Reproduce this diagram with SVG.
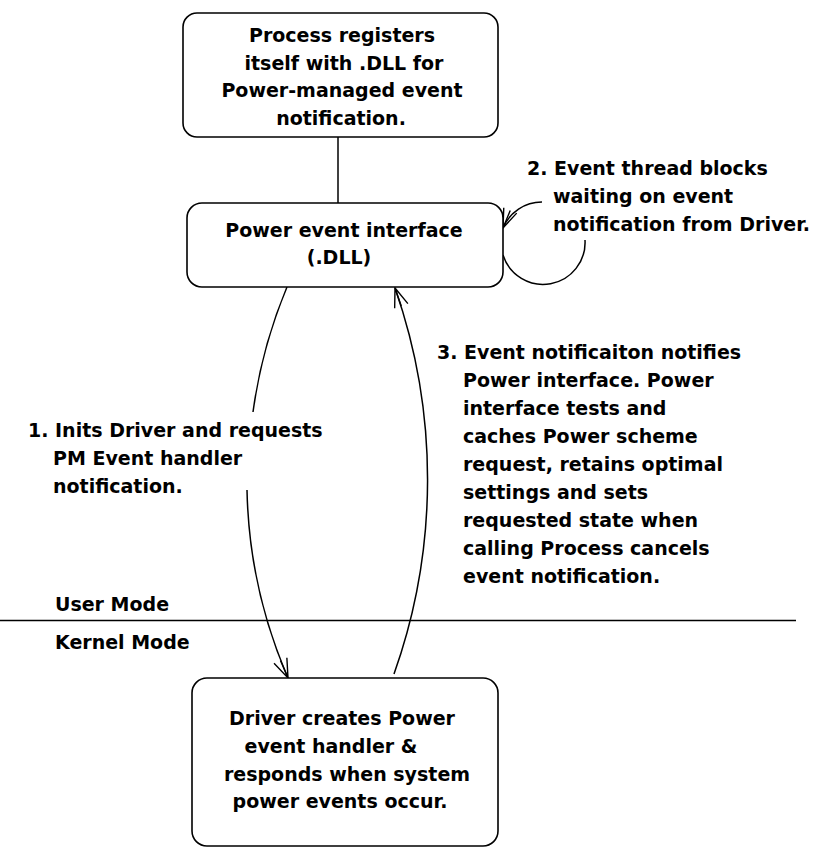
<svg xmlns="http://www.w3.org/2000/svg" width="815" height="847" viewBox="0 0 815 847">
<style>
.box{fill:#fff;stroke:#000;stroke-width:1.6}
.t{font-family:"DejaVu Sans","Liberation Sans",sans-serif;font-weight:bold;font-size:19px;fill:#000}
.c{text-anchor:middle}
.ln{fill:none;stroke:#000;stroke-width:1.5}
</style>
<defs>
<marker id="arr" markerUnits="userSpaceOnUse" viewBox="-22 -11 24 22" markerWidth="24" markerHeight="22" refX="0" refY="0" orient="auto">
<path d="M-19,-7 L0,0 L-19,7 M-19,0 L0,0" fill="none" stroke="#000" stroke-width="1.4"/>
</marker>
</defs>
<rect width="815" height="847" fill="#fff"/>
<g id="connectors">
<path class="ln" d="M338,137 L338,203"/>
<path class="ln" d="M287,287 A498,498 0 0 0 253,412"/>
<path class="ln" d="M247,490 A498,498 0 0 0 288,678" marker-end="url(#arr)"/>
<path class="ln" d="M394,674 A580,580 0 0 0 395,288" marker-end="url(#arr)"/>
<path class="ln" d="M503,255 A42,42 0 0 0 585,240"/>
<path class="ln" d="M542,202 A42,42 0 0 0 503,228" marker-end="url(#arr)"/>
</g>
<g id="mode-divider">
<line x1="0" y1="620.5" x2="796" y2="620.5" stroke="#000" stroke-width="1.6"/>
<text class="t" x="55" y="611">User Mode</text>
<text class="t" x="55" y="649">Kernel Mode</text>
</g>
<g id="process">
<rect class="box" x="183" y="13" width="315" height="124" rx="14"/>
<text class="t c" x="342" y="42">Process registers</text>
<text class="t c" x="344" y="70">itself with .DLL for</text>
<text class="t c" x="342" y="97">Power-managed event</text>
<text class="t c" x="341" y="125">notification.</text>
</g>
<g id="dll">
<rect class="box" x="187" y="203" width="316" height="84" rx="15"/>
<text class="t c" x="344" y="237">Power event interface</text>
<text class="t c" x="339" y="264">(.DLL)</text>
</g>
<g id="driver">
<rect class="box" x="192" y="678" width="306" height="168" rx="15"/>
<text class="t c" x="342" y="725">Driver creates Power</text>
<text class="t c" x="331" y="753">event handler &amp;</text>
<text class="t c" x="347" y="781">responds when system</text>
<text class="t c" x="340" y="808">power events occur.</text>
</g>
<g id="label-1">
<text class="t" x="28" y="437">1. Inits Driver and requests</text>
<text class="t" x="53" y="465">PM Event handler</text>
<text class="t" x="53" y="493">notification.</text>
</g>
<g id="label-2">
<text class="t" x="527" y="175">2. Event thread blocks</text>
<text class="t" x="553" y="203">waiting on event</text>
<text class="t" x="553" y="231">notification from Driver.</text>
</g>
<g id="label-3">
<text class="t" x="437" y="359">3. Event notificaiton notifies</text>
<text class="t" x="463" y="387">Power interface. Power</text>
<text class="t" x="463" y="415">interface tests and</text>
<text class="t" x="463" y="443">caches Power scheme</text>
<text class="t" x="463" y="471">request, retains optimal</text>
<text class="t" x="463" y="499">settings and sets</text>
<text class="t" x="463" y="527">requested state when</text>
<text class="t" x="463" y="555">calling Process cancels</text>
<text class="t" x="463" y="583">event notification.</text>
</g>
</svg>
